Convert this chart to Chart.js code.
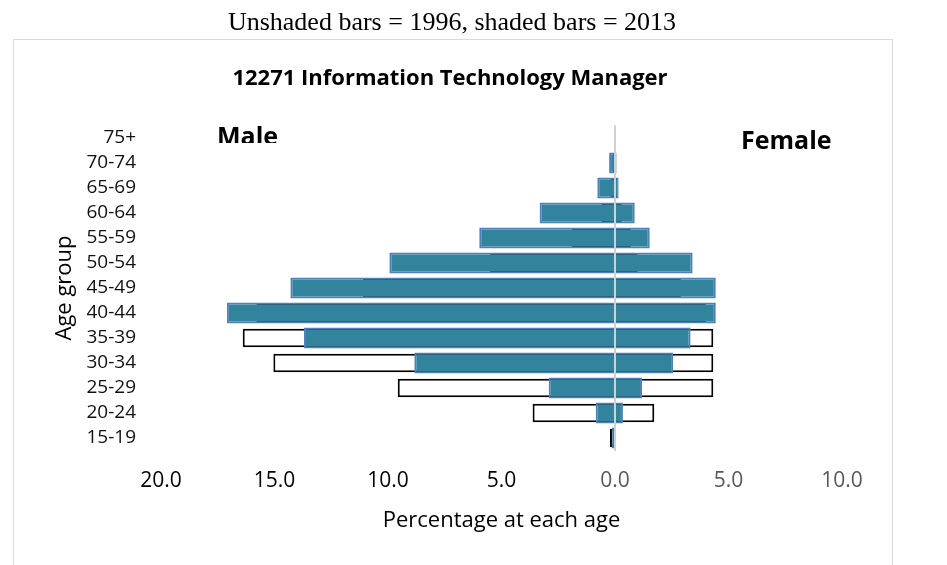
<!DOCTYPE html>
<html>
<head>
<meta charset="utf-8">
<title>12271 Information Technology Manager</title>
<script src="https://cdn.jsdelivr.net/npm/chart.js@4/dist/chart.umd.min.js"></script>
<style>
  html, body { margin: 0; padding: 0; background: #fff; }
  #pyramid { display: block; }
</style>
</head>
<body>
<canvas id="pyramid" width="947" height="565"></canvas>
<script>
// Age groups, bottom to top
const ageGroups = ['15-19', '20-24', '25-29', '30-34', '35-39', '40-44', '45-49', '50-54', '55-59', '60-64', '65-69', '70-74', '75+'];

// Percentages (male drawn to the left)
const male2013   = [0.15, 0.85, 2.92, 8.84, 13.7, 17.1, 14.3, 9.94, 5.98, 3.32, 0.78, 0.26, 0];
const female2013 = [0, 0.35, 1.19, 2.56, 3.33, 4.44, 4.44, 3.42, 1.53, 0.87, 0.16, 0.07, 0];
const male1996   = [0.22, 3.63, 9.57, 15.05, 16.4, 15.8, 11.1, 5.5, 1.9, 0.6, 0.2, 0.1, 0];
const female1996 = [0, 1.73, 4.33, 4.33, 4.33, 4.0, 2.9, 1.0, 0.7, 0.3, 0.1, 0, 0];

const xTicks = [-20, -15, -10, -5, 0, 5, 10];

const caption = 'Unshaded bars = 1996, shaded bars = 2013';
const chartTitle = '12271 Information Technology Manager';

const shadedFill = '#31849b';
const shadedBorder = '#4f81bd';

// frame, caption, title and the Male / Female labels
const decorations = {
    id: 'decorations',
    beforeDraw(chart) {
        const ctx = chart.ctx;
        ctx.save();
        ctx.fillStyle = '#ffffff';
        ctx.fillRect(0, 0, chart.width, chart.height);
        ctx.strokeStyle = '#d9d9d9';
        ctx.lineWidth = 1;
        ctx.strokeRect(13.5, 39.5, 879, 560);
        ctx.restore();
    },
    afterDraw(chart) {
        const ctx = chart.ctx;
        ctx.save();
        ctx.fillStyle = '#000';
        ctx.textBaseline = 'alphabetic';
        ctx.textAlign = 'center';
        ctx.font = '26px "Liberation Serif"';
        ctx.fillText(caption, 452, 30);
        ctx.font = 'bold 22px "Open Sans"';
        ctx.fillText(chartTitle, 450, 85);

        ctx.textAlign = 'left';
        ctx.font = 'bold 25px "Open Sans"';
        ctx.fillText('Female', 741, 149);
        // the Male label is cut off at the bottom in the original
        ctx.beginPath();
        ctx.rect(150, 100, 200, 43);
        ctx.clip();
        ctx.fillText('Male', 217, 145);
        ctx.restore();
    }
};

document.addEventListener('DOMContentLoaded', function() {
    const ctx = document.getElementById('pyramid');

    new Chart(ctx, {
        type: 'bar',
        data: {
            labels: ageGroups,
            datasets: [{
                label: 'Male 2013',
                data: male2013.map(v => -v),
                backgroundColor: shadedFill,
                borderColor: shadedBorder,
                borderWidth: 2,
                barPercentage: 0.84
            }, {
                label: 'Female 2013',
                data: female2013,
                backgroundColor: shadedFill,
                borderColor: shadedBorder,
                borderWidth: 2,
                barPercentage: 0.84
            }, {
                label: 'Male 1996',
                data: male1996.map(v => -v),
                backgroundColor: '#ffffff',
                borderColor: '#000000',
                borderWidth: 2,
                barPercentage: 0.74
            }, {
                label: 'Female 1996',
                data: female1996,
                backgroundColor: '#ffffff',
                borderColor: '#000000',
                borderWidth: 2,
                barPercentage: 0.74
            }]
        },
        options: {
            indexAxis: 'y',
            responsive: false,
            animation: false,
            datasets: {
                bar: {
                    grouped: false,
                    categoryPercentage: 1
                }
            },
            layout: {
                padding: { top: 125.5, right: 105, bottom: 0, left: 0 }
            },
            plugins: {
                legend: { display: false },
                tooltip: { enabled: false }
            },
            scales: {
                x: {
                    type: 'linear',
                    min: -20,
                    max: 10,
                    afterBuildTicks: function(scale) {
                        scale.ticks = xTicks.map(v => ({ value: v }));
                    },
                    afterFit: function(scale) {
                        scale.height = 114.5;
                    },
                    ticks: {
                        padding: 18,
                        font: { family: '"Open Sans"', size: 21 },
                        color: function(c) {
                            return c.tick && c.tick.value < 0 ? '#000000' : '#595959';
                        },
                        callback: function(value) {
                            return Math.abs(value).toFixed(1);
                        }
                    },
                    grid: {
                        z: 1,
                        drawTicks: false,
                        lineWidth: 2,
                        color: function(c) {
                            return c.tick && c.tick.value === 0 ? '#d0d0d0' : 'rgba(0,0,0,0)';
                        }
                    },
                    border: { display: false },
                    title: {
                        display: true,
                        text: 'Percentage at each age',
                        color: '#000',
                        font: { family: '"Open Sans"', size: 22 },
                        padding: { top: 0, bottom: 31 }
                    }
                },
                y: {
                    reverse: true,
                    afterFit: function(scale) {
                        scale.width = 161;
                    },
                    ticks: {
                        autoSkip: false,
                        padding: 25,
                        crossAlign: 'near',
                        color: '#111',
                        font: { family: '"Open Sans"', size: 19, lineHeight: 1 }
                    },
                    grid: { display: false, drawTicks: false },
                    border: { display: false },
                    title: {
                        display: true,
                        text: 'Age group',
                        color: '#000',
                        font: { family: '"Open Sans"', size: 22 },
                        padding: { top: 52, bottom: 0 }
                    }
                }
            }
        },
        plugins: [decorations]
    });
});
</script>
</body>
</html>
